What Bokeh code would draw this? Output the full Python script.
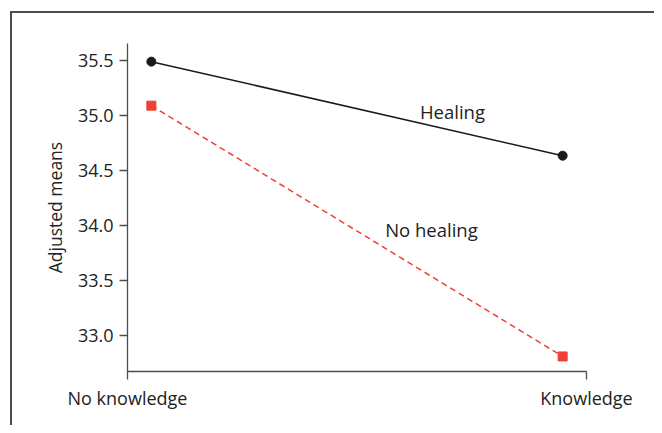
from bokeh.plotting import figure
from bokeh.models import FixedTicker, Label, NumeralTickFormatter, ColumnDataSource
from bokeh.embed import file_html
from bokeh.resources import INLINE

conditions = ["No knowledge", "Knowledge"]
x_pos = [0, 1]
healing = [35.49, 34.635]
no_healing = [35.09, 32.81]
y_ticks = [33.0, 33.5, 34.0, 34.5, 35.0, 35.5]
x_lo, x_hi = -0.058, 1.058

FONT = "Open Sans"
EDGE = "#4d4d4d"

p = figure(width=654, height=425, output_backend="svg", toolbar_location=None,
           x_range=(x_lo, x_hi), y_range=(32.673, 35.655),
           min_border_left=127, min_border_top=43, min_border_right=68, min_border_bottom=54)
p.grid.visible = False
p.outline_line_color = None
p.background_fill_color = None
p.border_fill_color = None
# outer frame of the figure panel (top and left edges), drawn as the page background
p.styles = {
    "background": (f"linear-gradient({EDGE},{EDGE}) 10px 11px / 2px 100% no-repeat, "
                   f"linear-gradient({EDGE},{EDGE}) 10px 11px / 100% 2px no-repeat, white"),
}

src_h = ColumnDataSource(dict(x=x_pos, y=healing))
src_n = ColumnDataSource(dict(x=x_pos, y=no_healing))
p.line("x", "y", source=src_h, line_color="#1a1a1a", line_width=1.5)
p.scatter("x", "y", source=src_h, marker="circle", size=9, fill_color="#1a1a1a", line_color="#1a1a1a")
p.line("x", "y", source=src_n, line_color="#ef4036", line_width=1.5, line_dash="6 4")
p.scatter("x", "y", source=src_n, marker="square", size=9, fill_color="#ef4036", line_color="#ef4036")

p.add_layout(Label(x=0.732, y=35.036, text="Healing", text_align="center", text_baseline="middle",
                   text_font=FONT, text_font_size="18.5px", text_color="#222222"))
p.add_layout(Label(x=0.681, y=33.964, text="No healing", text_align="center", text_baseline="middle",
                   text_font=FONT, text_font_size="18.5px", text_color="#222222"))

for ax in (p.xaxis[0], p.yaxis[0]):
    ax.axis_line_color = EDGE
    ax.axis_line_width = 1.3
    ax.major_tick_line_color = EDGE
    ax.major_tick_line_width = 1.3
    ax.major_tick_out = 8
    ax.major_tick_in = 0
    ax.minor_tick_line_color = None
    ax.major_label_text_font = FONT
    ax.major_label_text_font_size = "18px"
    ax.major_label_text_color = "#222222"

p.yaxis.ticker = FixedTicker(ticks=y_ticks)
p.yaxis.formatter = NumeralTickFormatter(format="0.0")
p.yaxis.axis_label = "Adjusted means"
p.yaxis.axis_label_text_font = FONT
p.yaxis.axis_label_text_font_size = "17.5px"
p.yaxis.axis_label_text_font_style = "normal"
p.yaxis.axis_label_text_color = "#222222"
p.yaxis.axis_label_standoff = 8
p.yaxis.major_label_standoff = 6

p.xaxis.ticker = FixedTicker(ticks=[x_lo, x_hi])
p.xaxis.major_label_overrides = {x_lo: conditions[0], x_hi: conditions[1]}
p.xaxis.major_label_standoff = 6

open("out.html", "w").write(file_html(p, INLINE))
